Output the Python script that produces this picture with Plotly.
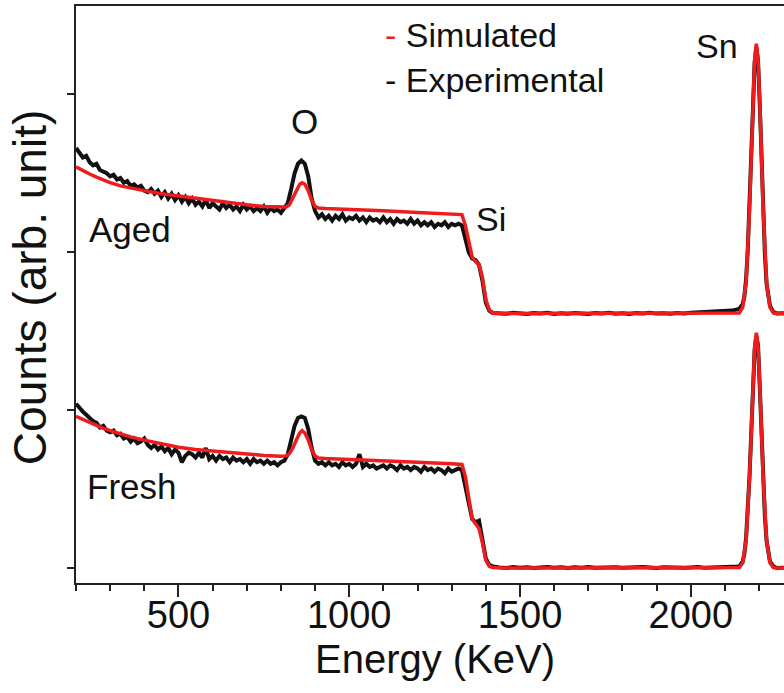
import plotly.graph_objects as go

# ---------------- data (arbitrary count units, 1 unit = one y tick) ----------------
# dense channel grid for the noisy experimental region
E_exp_main = list(range(200, 1430, 10))
fresh_exp_main = [
    1.04, 1.01, 0.99, 0.97, 0.95, 0.93, 0.92, 0.89, 0.90, 0.87,
    0.86, 0.87, 0.84, 0.85, 0.82, 0.83, 0.80, 0.82, 0.79, 0.80,
    0.82, 0.78, 0.76, 0.78, 0.75, 0.77, 0.74, 0.76, 0.72, 0.75,
    0.73, 0.67, 0.71, 0.73, 0.72, 0.70, 0.73, 0.70, 0.76, 0.69,
    0.71, 0.68, 0.71, 0.69, 0.70, 0.67, 0.70, 0.68, 0.69, 0.67,
    0.69, 0.66, 0.69, 0.67, 0.68, 0.66, 0.68, 0.66, 0.67, 0.65,
    0.67, 0.68, 0.72, 0.80, 0.90, 0.95, 0.96, 0.95, 0.88, 0.76,
    0.68, 0.66, 0.67, 0.65, 0.67, 0.65, 0.66, 0.64, 0.67, 0.65,
    0.66, 0.64, 0.66, 0.72, 0.64, 0.66, 0.64, 0.65, 0.63, 0.64,
    0.65, 0.63, 0.65, 0.64, 0.62, 0.65, 0.63, 0.64, 0.62, 0.64,
    0.63, 0.61, 0.64, 0.62, 0.63, 0.61, 0.63, 0.62, 0.60, 0.63,
    0.61, 0.62, 0.63, 0.62, 0.52, 0.42, 0.31, 0.29, 0.30, 0.18,
    0.06, 0.02, 0.01,
]
aged_exp_main = [
    2.66, 2.63, 2.60, 2.61, 2.57, 2.55, 2.56, 2.52, 2.51, 2.50,
    2.48, 2.49, 2.46, 2.47, 2.44, 2.45, 2.42, 2.43, 2.41, 2.42,
    2.39, 2.38, 2.40, 2.37, 2.39, 2.35, 2.38, 2.34, 2.37, 2.33,
    2.36, 2.32, 2.35, 2.31, 2.34, 2.30, 2.32, 2.29, 2.33, 2.28,
    2.31, 2.29, 2.27, 2.31, 2.28, 2.30, 2.27, 2.29, 2.26, 2.30,
    2.27, 2.29, 2.26, 2.28, 2.26, 2.29, 2.25, 2.28, 2.26, 2.27,
    2.25, 2.28, 2.31, 2.40, 2.50, 2.56, 2.58, 2.56, 2.48, 2.34,
    2.26, 2.22, 2.24, 2.21, 2.23, 2.20, 2.23, 2.21, 2.24, 2.20,
    2.22, 2.21, 2.23, 2.20, 2.22, 2.19, 2.22, 2.20, 2.21, 2.19,
    2.22, 2.19, 2.21, 2.18, 2.21, 2.19, 2.20, 2.18, 2.21, 2.18,
    2.20, 2.17, 2.19, 2.17, 2.19, 2.16, 2.18, 2.17, 2.19, 2.16,
    2.18, 2.17, 2.18, 2.17, 2.08, 2.00, 1.96, 1.95, 1.92, 1.82,
    1.68, 1.63, 1.615,
]

# sparser channels along the substrate baseline
E_exp_base = list(range(1440, 2140, 20))
fresh_exp_base = [
    0.004, 0.000, 0.006, 0.002, 0.005, 0.000, 0.003, 0.007, 0.001, 0.004,
    0.000, 0.005, 0.002, 0.006, 0.001, 0.003, 0.000, 0.005, 0.002, 0.004,
    0.001, 0.006, 0.003, 0.000, 0.004, 0.002, 0.005, 0.001, 0.003, 0.006,
    0.002, 0.004, 0.003, 0.005, 0.008,
]
aged_exp_base = [
    1.615, 1.610, 1.617, 1.612, 1.608, 1.614, 1.611, 1.616, 1.609, 1.613,
    1.610, 1.615, 1.612, 1.608, 1.614, 1.611, 1.616, 1.610, 1.613, 1.609,
    1.614, 1.612, 1.617, 1.611, 1.613, 1.610, 1.615, 1.612, 1.616, 1.618,
    1.620, 1.622, 1.624, 1.626, 1.630,
]

# Sn surface peak channels
E_exp_peak = [2142, 2152, 2157, 2162, 2167, 2172, 2177, 2182, 2187, 2192,
              2197, 2202, 2207, 2212, 2217, 2222, 2232, 2242, 2252, 2273]
fresh_exp_peak = [0.01, 0.04, 0.09, 0.19, 0.36, 0.58, 0.85, 1.18, 1.38, 1.47,
                  1.41, 1.15, 0.88, 0.55, 0.33, 0.17, 0.04, 0.01, 0.0, 0.002]
aged_exp_peak = [1.64, 1.67, 1.72, 1.83, 2.02, 2.28, 2.60, 2.95, 3.20, 3.30,
                 3.21, 2.94, 2.62, 2.25, 1.99, 1.80, 1.66, 1.62, 1.612, 1.613]

E_exp = E_exp_main + E_exp_base + E_exp_peak
fresh_exp = fresh_exp_main + fresh_exp_base + fresh_exp_peak
aged_exp = aged_exp_main + aged_exp_base + aged_exp_peak

# simulated spectra
E_sim = [200, 220, 240, 260, 280, 300, 330, 360, 400, 450, 500, 550, 600, 650,
         700, 750, 800, 815, 825, 835, 845, 855, 862, 870, 880, 890, 900, 910,
         930, 1000, 1100, 1200, 1300, 1330, 1340, 1350, 1360, 1370, 1380, 1390,
         1400, 1410, 1420, 1450, 1600, 1800, 2000, 2100, 2132, 2142, 2152, 2162,
         2172, 2177, 2182, 2187, 2192, 2197, 2202, 2207, 2212, 2222, 2232, 2242,
         2252, 2273]
fresh_sim = [0.96, 0.94, 0.92, 0.90, 0.885, 0.87, 0.85, 0.83, 0.81, 0.785,
             0.765, 0.75, 0.74, 0.73, 0.72, 0.713, 0.707, 0.71, 0.725, 0.76,
             0.81, 0.855, 0.87, 0.855, 0.81, 0.75, 0.71, 0.697, 0.693, 0.688,
             0.679, 0.67, 0.66, 0.656, 0.58, 0.45, 0.31, 0.28, 0.25, 0.16,
             0.05, 0.01, 0.003, 0.0, 0.0, 0.0, 0.0, 0.0, 0.0, 0.003,
             0.033, 0.176, 0.57, 0.87, 1.17, 1.40, 1.49, 1.40, 1.17, 0.87,
             0.57, 0.176, 0.033, 0.003, 0.0, 0.0]
aged_sim = [2.54, 2.515, 2.495, 2.475, 2.455, 2.44, 2.42, 2.405, 2.39, 2.37,
            2.355, 2.34, 2.325, 2.31, 2.30, 2.29, 2.283, 2.286, 2.30, 2.34,
            2.39, 2.43, 2.44, 2.43, 2.39, 2.33, 2.29, 2.28, 2.277, 2.272,
            2.262, 2.252, 2.242, 2.238, 2.17, 2.06, 1.97, 1.94, 1.92, 1.84,
            1.70, 1.635, 1.615, 1.612, 1.612, 1.612, 1.612, 1.612, 1.612, 1.615,
            1.65, 1.81, 2.27, 2.61, 2.96, 3.22, 3.32, 3.22, 2.96, 2.61,
            2.27, 1.81, 1.65, 1.615, 1.612, 1.612]

x_ticks = [500, 1000, 1500, 2000]
y_ticks = [0, 1, 2, 3]

# ---------------- figure ----------------
FONT = "Liberation Sans, Arial, sans-serif"
RED = "#ee1c1c"
BLACK = "#111111"

fig = go.Figure()
for y in (fresh_exp, aged_exp):
    fig.add_trace(go.Scatter(x=E_exp, y=y, mode="lines",
                             line=dict(color=BLACK, width=4), showlegend=False,
                             hoverinfo="skip"))
for y in (fresh_sim, aged_sim):
    fig.add_trace(go.Scatter(x=E_sim, y=y, mode="lines",
                             line=dict(color=RED, width=3.5), showlegend=False,
                             hoverinfo="skip"))

# plot area: x 76..784 px, y 5.7..583 px
L, T, B = 76, 5.7, 583
W, H = 784 - L, B - T


def px(xp, yp):
    return (xp - L) / W, (B - yp) / H


def note(text, xp, yp, size=35, xanchor="center", angle=0):
    x, y = px(xp, yp)
    fig.add_annotation(x=x, y=y, xref="paper", yref="paper", text=text,
                       showarrow=False, xanchor=xanchor, yanchor="middle",
                       textangle=angle,
                       font=dict(family=FONT, size=size, color=BLACK))


note("Sn", 717, 46, 34)
note("O", 304, 121, 35)
note("Si", 491, 219, 34)
note("Aged", 130, 229, 35)
note("Fresh", 131, 486, 35)
note(f"<span style='color:{RED}'>-</span> Simulated", 383, 35, 34, "left")
note("- Experimental", 383, 80, 34, "left")
note("Energy (KeV)", 435, 659, 40)
note("Counts (arb. unit)", 30, 288, 46, angle=-90)

fig.update_layout(
    width=784, height=693,
    margin=dict(l=L, r=0, t=T, b=693 - B),
    paper_bgcolor="white", plot_bgcolor="white",
    showlegend=False,
    font=dict(family=FONT, color=BLACK),
    xaxis=dict(range=[200, 2273], tickvals=x_ticks, ticks="outside",
               ticklen=12, tickwidth=2, tickcolor="#222",
               ticklabelstandoff=-15,
               showline=True, linewidth=2, linecolor="#222", mirror=True,
               showgrid=False, zeroline=False,
               tickfont=dict(family=FONT, size=38, color=BLACK),
               minor=dict(dtick=100, tick0=0, ticks="outside", ticklen=6,
                          tickwidth=2, tickcolor="#222", showgrid=False)),
    yaxis=dict(range=[-0.095, 3.559], tickvals=y_ticks, ticks="outside",
               ticklen=7, tickwidth=2, tickcolor="#222",
               showticklabels=False, showline=True, linewidth=2,
               linecolor="#222", showgrid=False, zeroline=False),
)

fig.write_html("out.html")
